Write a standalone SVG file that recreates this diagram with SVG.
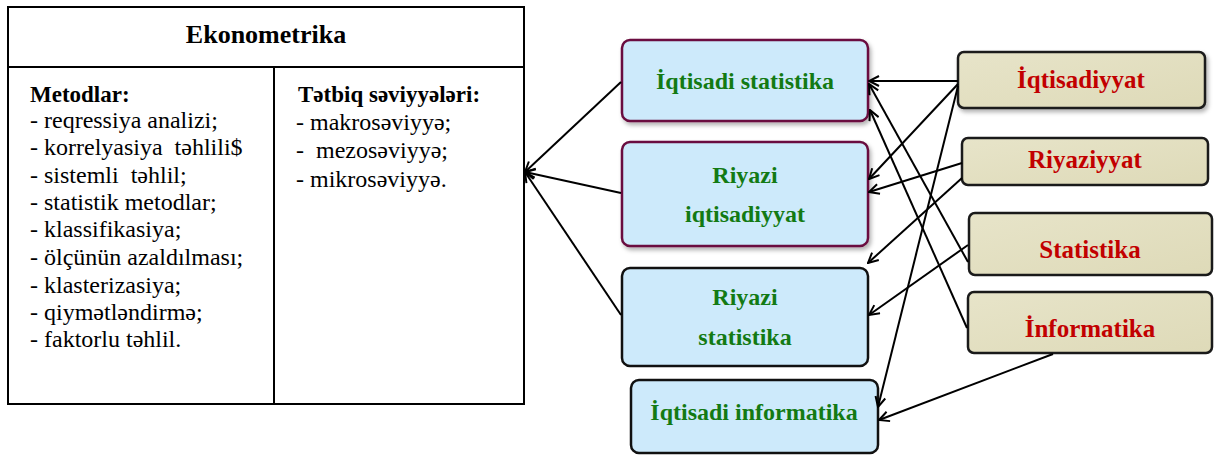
<svg xmlns="http://www.w3.org/2000/svg" width="1215" height="455" viewBox="0 0 1215 455">
<defs>
<style>
.tb{fill:none;stroke:#000;stroke-width:2}
.t{font-family:"Liberation Serif","Times New Roman",serif;fill:#000;white-space:pre}
.h{font-size:26px;font-weight:bold}
.b{font-size:23px;font-weight:bold}
.r{font-size:24px}
.blue{fill:#cdeafb}
.mar{stroke:#6a1040;stroke-width:2.5}
.blk{stroke:#111;stroke-width:2.5}
.beige{fill:url(#bg);stroke:#1a1a1a;stroke-width:2.5}
.g{font-family:"Liberation Serif","Times New Roman",serif;font-size:24px;font-weight:bold;fill:#137a13;text-anchor:middle}
.red{font-family:"Liberation Serif","Times New Roman",serif;font-size:25px;font-weight:bold;fill:#c20000;text-anchor:middle}
.c{fill:none;stroke:#000;stroke-width:2;marker-end:url(#ar)}
</style>
<linearGradient id="bg" x1="0" y1="0" x2="1" y2="1">
<stop offset="0" stop-color="#e7e4c9"/>
<stop offset="1" stop-color="#dedab8"/>
</linearGradient>
<filter id="sh" x="-5%" y="-10%" width="115%" height="130%">
<feDropShadow dx="2" dy="3" stdDeviation="2" flood-color="#000" flood-opacity="0.3"/>
</filter>
<marker id="ar" markerWidth="12" markerHeight="12" refX="11" refY="6" orient="auto" markerUnits="userSpaceOnUse">
<path d="M1,1 L11,6 L1,11" fill="none" stroke="#000" stroke-width="2"/>
</marker>
</defs>

<g id="ekonometrika">
<rect class="tb" x="8" y="7" width="516" height="397"/>
<line class="tb" x1="8" y1="67" x2="524" y2="67"/>
<line class="tb" x1="274" y1="67" x2="274" y2="404"/>
<text class="t h" x="266" y="43" text-anchor="middle">Ekonometrika</text>
<text class="t b" x="30" y="102">Metodlar:</text>
<text class="t r" x="30" y="128">- reqressiya analizi;</text>
<text class="t r" x="30" y="155">- korrelyasiya  təhlili$</text>
<text class="t r" x="30" y="183">- sistemli  təhlil;</text>
<text class="t r" x="30" y="210">- statistik metodlar;</text>
<text class="t r" x="30" y="237">- klassifikasiya;</text>
<text class="t r" x="30" y="265">- ölçünün azaldılması;</text>
<text class="t r" x="30" y="293">- klasterizasiya;</text>
<text class="t r" x="30" y="320">- qiymətləndirmə;</text>
<text class="t r" x="30" y="347">- faktorlu təhlil.</text>
<text class="t b" x="298" y="102">Tətbiq səviyyələri:</text>
<text class="t r" x="296" y="130">- makrosəviyyə;</text>
<text class="t r" x="296" y="158">-  mezosəviyyə;</text>
<text class="t r" x="296" y="187">- mikrosəviyyə.</text>
</g>

<g id="iqtisadi-statistika">
<rect class="blue mar" x="622" y="40" width="246" height="81" rx="8" filter="url(#sh)"/>
<text class="g" x="745" y="89">İqtisadi statistika</text>
</g>
<g id="riyazi-iqtisadiyyat">
<rect class="blue mar" x="622" y="142" width="246" height="104" rx="8" filter="url(#sh)"/>
<text class="g" x="745" y="183">Riyazi</text>
<text class="g" x="745" y="222">iqtisadiyyat</text>
</g>
<g id="riyazi-statistika">
<rect class="blue blk" x="622" y="268" width="246" height="98" rx="8"/>
<text class="g" x="745" y="305">Riyazi</text>
<text class="g" x="745" y="345">statistika</text>
</g>
<g id="iqtisadi-informatika">
<rect class="blue blk" x="631" y="380" width="247" height="73" rx="8"/>
<text class="g" x="754" y="420">İqtisadi informatika</text>
</g>

<g id="iqtisadiyyat">
<rect class="beige" x="958" y="52" width="247" height="56" rx="6" filter="url(#sh)"/>
<text class="red" x="1081" y="88">İqtisadiyyat</text>
</g>
<g id="riyaziyyat">
<rect class="beige" x="962" y="138" width="246" height="47" rx="6"/>
<text class="red" x="1085" y="168">Riyaziyyat</text>
</g>
<g id="statistika">
<rect class="beige" x="969" y="213" width="243" height="62" rx="6"/>
<text class="red" x="1090" y="258">Statistika</text>
</g>
<g id="informatika">
<rect class="beige" x="968" y="292" width="244" height="61" rx="6"/>
<text class="red" x="1090" y="337">İnformatika</text>
</g>

<g id="connectors">
<line class="c" x1="621" y1="82" x2="525" y2="172"/>
<line class="c" x1="621" y1="193" x2="525" y2="172"/>
<line class="c" x1="621" y1="315" x2="525" y2="172"/>
<line class="c" x1="958" y1="81" x2="869" y2="81"/>
<line class="c" x1="958" y1="84" x2="869" y2="179"/>
<line class="c" x1="958" y1="86" x2="878" y2="407"/>
<line class="c" x1="962" y1="163" x2="869" y2="192"/>
<line class="c" x1="962" y1="178" x2="868" y2="263"/>
<line class="c" x1="968" y1="245" x2="869" y2="315"/>
<line class="c" x1="968" y1="262" x2="869" y2="84"/>
<line class="c" x1="967" y1="328" x2="870" y2="110"/>
<line class="c" x1="1053" y1="354" x2="879" y2="420"/>
</g>
</svg>
